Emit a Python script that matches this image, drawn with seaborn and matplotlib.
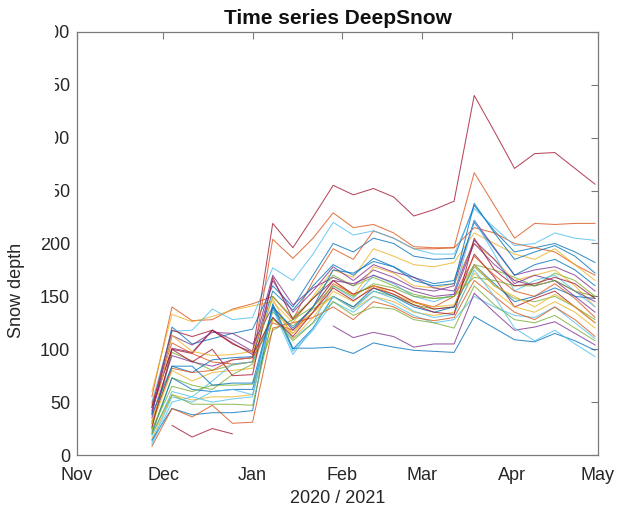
import numpy as np
import pandas as pd
import matplotlib
matplotlib.use("Agg")
import matplotlib.pyplot as plt
import matplotlib.dates as mdates
from matplotlib.patches import Rectangle
import seaborn as sns

sns.set_theme(style="white")
plt.rcParams["font.family"] = ["Liberation Sans", "DejaVu Sans"]

# Weekly survey dates of the 2020/2021 season
dates = ["2020-11-27", "2020-12-04", "2020-12-11", "2020-12-18", "2020-12-25",
         "2021-01-01", "2021-01-08", "2021-01-15", "2021-01-22", "2021-01-29",
         "2021-02-05", "2021-02-12", "2021-02-19", "2021-02-26", "2021-03-05",
         "2021-03-12", "2021-03-19", "2021-03-26", "2021-04-02", "2021-04-09",
         "2021-04-16", "2021-04-23", "2021-04-30"]

nan = np.nan
# Snow depth per site (cm)
site01 = [38, 121, 105, 110, 115, 119, 160, 140, 170, 200, 192, 205, 200, 188, 185, 186, 236, 212, 192, 196, 200, 192, 182]
site02 = [55, 140, 127, 128, 138, 143, 150, 128, 165, 195, 185, 212, 205, 195, 195, 196, 215, 210, 200, 196, 192, 180, 170]
site03 = [60, 133, 126, 131, 137, 141, 145, 125, 150, 175, 168, 195, 188, 180, 178, 182, 210, 200, 190, 185, 195, 180, 165]
site04 = [42, 101, 97, 118, 109, 98, 170, 142, 158, 168, 160, 175, 168, 158, 155, 160, 222, 196, 170, 175, 178, 170, 155]
site05 = [25, 97, 89, 80, 85, 88, 150, 130, 148, 170, 160, 168, 160, 152, 148, 150, 180, 175, 168, 160, 172, 165, 150]
site06 = [50, 117, 118, 138, 128, 130, 177, 165, 190, 220, 208, 212, 205, 195, 190, 190, 233, 215, 198, 200, 210, 205, 203]
site07 = [45, 100, 96, 118, 105, 97, 219, 196, 225, 255, 246, 252, 244, 226, 232, 240, 340, 306, 271, 285, 286, 271, 256]
site08 = [30, 84, 78, 90, 92, 93, 155, 137, 160, 180, 170, 186, 178, 168, 162, 165, 220, 195, 170, 180, 185, 175, 160]
site09 = [48, 106, 96, 88, 86, 88, 204, 186, 205, 229, 215, 218, 210, 197, 196, 196, 267, 236, 205, 219, 218, 219, 219]
site10 = [28, 80, 70, 78, 80, 82, 138, 115, 140, 165, 150, 178, 172, 160, 158, 162, 200, 185, 165, 170, 175, 160, 140]
site11 = [35, 94, 88, 84, 90, 92, 165, 135, 155, 178, 165, 180, 173, 168, 158, 155, 203, 185, 162, 170, 165, 150, 135]
site12 = [22, 73, 66, 62, 76, 86, 135, 122, 138, 150, 140, 155, 150, 142, 138, 140, 178, 160, 148, 145, 150, 140, 128]
site13 = [18, 60, 55, 70, 86, 88, 130, 110, 125, 160, 148, 170, 162, 150, 145, 152, 222, 190, 155, 165, 170, 155, 140]
site14 = [26, 100, 88, 100, 75, 76, 168, 128, 148, 165, 152, 160, 155, 145, 138, 140, 190, 168, 140, 148, 155, 140, 125]
site15 = [20, 73, 62, 60, 62, 62, 140, 100, 120, 150, 140, 158, 150, 140, 135, 140, 180, 162, 145, 150, 158, 150, 148]
site16 = [32, 82, 78, 80, 90, 92, 125, 118, 135, 162, 152, 160, 155, 145, 140, 150, 188, 170, 155, 150, 162, 148, 130]
site17 = [15, 57, 52, 55, 55, 57, 128, 115, 135, 150, 138, 150, 145, 135, 132, 135, 172, 155, 140, 135, 145, 135, 120]
site18 = [40, 113, 104, 116, 115, 105, 140, 118, 140, 165, 162, 170, 163, 155, 150, 152, 200, 180, 165, 160, 165, 155, 145]
site19 = [24, 65, 60, 66, 66, 67, 118, 128, 140, 160, 150, 162, 158, 150, 148, 150, 168, 165, 160, 160, 165, 155, 150]
site20 = [12, 55, 50, 60, 62, 57, 142, 98, 118, 145, 135, 150, 142, 132, 125, 128, 150, 140, 132, 130, 140, 125, 110]
site21 = [nan, 28, 17, 25, 20, nan, nan, nan, nan, nan, nan, nan, nan, nan, nan, nan, nan, nan, nan, nan, nan, nan, nan]
site22 = [14, 44, 38, 40, 40, 42, 143, 101, 101, 102, 96, 106, 102, 99, 98, 97, 131, 120, 109, 107, 115, 108, 99]
site23 = [8, 44, 36, 47, 30, 31, 120, 125, 130, 140, 128, 145, 140, 130, 127, 130, 165, 150, 135, 128, 140, 128, 112]
site24 = [30, 113, 98, 94, 95, 98, 148, 110, 130, 155, 145, 160, 152, 144, 140, 142, 180, 160, 150, 140, 152, 140, 125]
site25 = [nan, nan, nan, nan, nan, nan, nan, nan, nan, 122, 111, 116, 112, 102, 105, 105, 153, 135, 118, 121, 126, 115, 104]
site26 = [20, 57, 48, 48, 48, 47, 130, 108, 125, 145, 132, 140, 138, 128, 125, 120, 160, 142, 128, 125, 132, 120, 108]
site27 = [10, 50, 55, 50, 53, 55, 138, 95, 120, 150, 138, 155, 148, 136, 130, 133, 175, 150, 120, 108, 118, 105, 93]
site28 = [45, 118, 112, 118, 106, 95, 130, 112, 135, 158, 146, 158, 152, 142, 135, 133, 205, 175, 160, 162, 168, 162, 148]
site29 = [38, 84, 84, 66, 68, 68, 140, 120, 140, 175, 172, 183, 178, 165, 160, 162, 238, 210, 185, 192, 198, 188, 172]

sites = [site01, site02, site03, site04, site05, site06, site07, site08, site09, site10,
         site11, site12, site13, site14, site15, site16, site17, site18, site19, site20,
         site21, site22, site23, site24, site25, site26, site27, site28, site29]

frames = []
for i, vals in enumerate(sites):
    frames.append(pd.DataFrame({"date": pd.to_datetime(dates),
                                "depth": vals,
                                "site": f"site{i + 1:02d}"}))
df = pd.concat(frames, ignore_index=True).dropna()

# MATLAB default colour order, cycled over the sites
matlab_colors = ["#0072BD", "#D95319", "#EDB120", "#7E2F8E", "#77AC30", "#4DBEEE", "#A2142F"]
palette = {f"site{i + 1:02d}": matlab_colors[i % 7] for i in range(len(sites))}

W, H = 627, 507
fig = plt.figure(figsize=(W / 100, H / 100), dpi=100)
ax = fig.add_axes([77 / W, 1 - 455 / H, (598 - 77) / W, (455 - 32) / H])

sns.lineplot(data=df, x="date", y="depth", hue="site", palette=palette,
             estimator=None, legend=False, linewidth=0.75, alpha=0.78, ax=ax)

ax.set_xlim(pd.Timestamp("2020-11-01"), pd.Timestamp("2021-05-01"))
ax.set_ylim(0, 400)
ax.set_yticks([0, 50, 100, 150, 200, 250, 300, 350, 400])
ax.xaxis.set_major_locator(mdates.MonthLocator())
ax.xaxis.set_major_formatter(mdates.DateFormatter("%b"))

axis_grey = "#7a7a7a"
for s in ax.spines.values():
    s.set_visible(True)
    s.set_color(axis_grey)
    s.set_linewidth(0.9)
ax.tick_params(axis="both", direction="in", length=5, width=0.8, color=axis_grey,
               labelsize=13, labelcolor="#262626", top=True, right=True)
ax.tick_params(axis="x", pad=9)
ax.tick_params(axis="y", pad=5)

ax.set_title("Time series DeepSnow", fontsize=15, fontweight="bold", pad=6, color="#111111")
ax.set_xlabel("2020 / 2021", fontsize=13, color="#262626", labelpad=4)
ax.set_ylabel("Snow depth [cm]", fontsize=13, color="#262626")
ax.yaxis.label.set_horizontalalignment("left")
ax.yaxis.set_label_coords((25 - 77) / 521, (455 - 338) / 423)

# blank strip at the top left of the frame
fig.patches.append(Rectangle((0, 1 - 238 / H), 55 / W, 238 / H, transform=fig.transFigure,
                             facecolor="white", edgecolor="none", zorder=10))

fig.savefig("out.png", dpi=100)
